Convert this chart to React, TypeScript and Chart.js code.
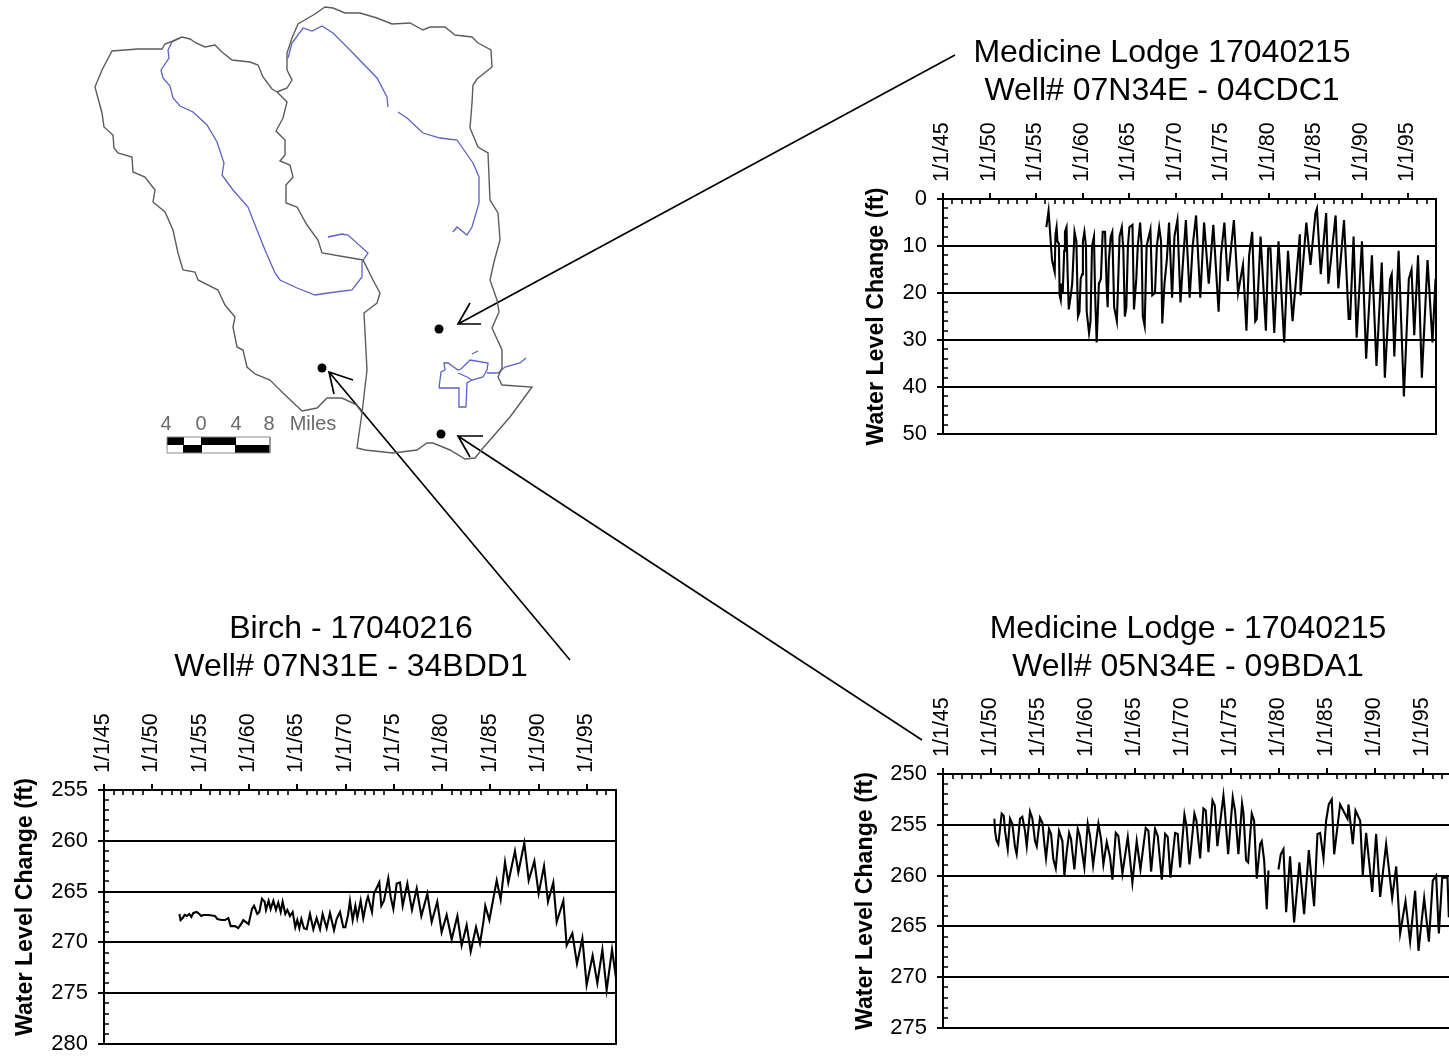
import React, { useEffect, useRef } from "react";
import { Chart, registerables } from "chart.js";

Chart.register(...registerables);

const FONT = "'Liberation Sans', Arial, sans-serif";
const Y_CAPTION = "Water Level Change (ft)";

// ---- Well 07N34E - 04CDC1 ----
const lodgeTitle = ["Medicine Lodge 17040215", "Well# 07N34E - 04CDC1"];
const lodgeYears = [
  1956.11, 1956.35, 1956.72, 1957.01, 1957.09, 1957.21, 1957.3, 1957.46, 1957.54, 1957.66, 1957.75, 1957.87, 1958.03,
  1958.11, 1958.28, 1958.4, 1958.52, 1958.77, 1958.89, 1959.14, 1959.34, 1959.51, 1959.67, 1959.8, 1959.96, 1960.04,
  1960.2, 1960.37, 1960.45, 1960.7, 1960.86, 1961.02, 1961.23, 1961.35, 1961.52, 1961.76, 1961.97, 1962.17, 1962.42,
  1962.58, 1962.7, 1962.83, 1963.03, 1963.2, 1963.4, 1963.69, 1963.81, 1963.98, 1964.22, 1964.39, 1964.55, 1964.71,
  1964.88, 1965.04, 1965.37, 1965.53, 1965.78, 1965.94, 1966.19, 1966.35, 1966.48, 1966.68, 1966.89, 1967.3, 1967.5,
  1967.79, 1967.99, 1968.24, 1968.44, 1968.57, 1968.81, 1969.06, 1969.3, 1969.63, 1969.88, 1970.2, 1970.53, 1970.78,
  1971.11, 1971.52, 1971.84, 1972.21, 1972.66, 1973.07, 1973.57, 1974.06, 1974.63, 1974.88, 1975.25, 1975.61, 1976.27,
  1976.72, 1977.25, 1977.62, 1977.91, 1978.24, 1978.57, 1978.73, 1979.14, 1979.71, 1979.96, 1980.2, 1980.61, 1981.07,
  1981.68, 1982.09, 1982.58, 1983.36, 1983.44, 1984.06, 1984.51, 1985.04, 1985.2, 1985.61, 1986.19, 1986.43, 1987.21,
  1987.5, 1988.11, 1988.61, 1988.77, 1989.14, 1989.47, 1990.04, 1990.49, 1991.11, 1991.6, 1992.17, 1992.5, 1993.07,
  1993.24, 1993.52, 1993.98, 1994.55, 1995.08, 1995.37, 1995.66, 1996.07, 1996.48, 1997.09, 1997.62, 1997.95,
];
const lodgeLevels = [
  6, 2.5, 13, 15.5, 7.5, 6, 9, 9.5, 20.5, 21.5, 18, 20, 11, 7, 6, 16, 23.5, 20, 18, 7, 9, 25, 24, 17, 16, 9, 7, 10, 24,
  28.5, 26, 10, 8, 20, 30.5, 18, 17, 7, 7, 18, 23, 13, 8, 7, 23, 26, 19, 8, 6, 11, 25, 23, 10, 6, 5.5, 23.5, 17, 10, 5,
  10, 25, 27, 10, 6.5, 20.5, 20, 10, 6, 9, 26.5, 18, 13, 5, 21, 8, 4.5, 22, 14, 4.5, 21, 10, 3.5, 21, 5, 18, 5.5, 24,
  12, 5, 17.5, 4.5, 20, 14, 28, 12, 7, 26, 25.5, 8, 28, 10.5, 10.5, 28.5, 9, 30.5, 11, 26, 7.5, 20.5, 5, 14, 3, 2, 16,
  3, 18, 3.5, 19, 4.5, 25.5, 25.5, 8, 29.5, 9, 34, 12, 35.5, 13.5, 38, 17, 16, 33.5, 11, 42, 17, 15, 29, 12, 38, 13,
  30.5, 17,
];

// ---- Well 07N31E - 34BDD1 ----
const birchTitle = ["Birch - 17040216", "Well# 07N31E - 34BDD1"];
const birchYears = [
  1952.8, 1952.93, 1953.14, 1953.35, 1953.56, 1953.83, 1954.04, 1954.25, 1954.59, 1954.87, 1955.07, 1955.28, 1955.8,
  1956.49, 1956.73, 1957.18, 1957.52, 1957.87, 1958.11, 1958.56, 1958.9, 1959.25, 1959.42, 1959.7, 1959.97, 1960.32,
  1960.53, 1960.87, 1961.08, 1961.35, 1961.63, 1961.77, 1962.04, 1962.25, 1962.53, 1962.8, 1963.04, 1963.29, 1963.49,
  1963.77, 1963.98, 1964.25, 1964.53, 1964.8, 1965.01, 1965.22, 1965.43, 1965.7, 1965.98, 1966.32, 1966.67, 1967.01,
  1967.36, 1967.63, 1968.05, 1968.39, 1968.81, 1969.08, 1969.43, 1969.77, 1969.98, 1970.26, 1970.46, 1970.74, 1971.02,
  1971.22, 1971.57, 1971.84, 1972.19, 1972.33, 1972.74, 1972.95, 1973.5, 1973.71, 1973.98, 1974.43, 1974.67, 1974.95,
  1975.3, 1975.64, 1975.92, 1976.4, 1976.88, 1977.37, 1977.85, 1978.47, 1978.92, 1979.5, 1979.95, 1980.47, 1980.99,
  1981.58, 1982.02, 1982.54, 1982.96, 1983.51, 1983.92, 1984.27, 1984.47, 1984.89, 1985.65, 1986.06, 1986.51, 1986.85,
  1987.54, 1987.89, 1988.51, 1988.96, 1989.55, 1989.99, 1990.55, 1990.96, 1991.51, 1991.86, 1992.55, 1992.89, 1993.48,
  1993.96, 1994.52, 1994.96, 1995.58, 1996.07, 1996.59, 1997.03, 1997.59, 1998.0,
];
const birchLevels = [
  267.2, 267.8, 267.6, 267.3, 267.4, 267.2, 267.5, 267.1, 267.0, 267.2, 267.4, 267.3, 267.3, 267.4, 267.7, 267.8, 267.8,
  267.6, 268.4, 268.4, 268.6, 268.1, 267.8, 268.0, 268.2, 266.7, 266.4, 267.2, 267.0, 265.7, 266.0, 266.8, 265.9, 266.7,
  265.9, 266.8, 266.1, 267.0, 266.0, 267.2, 266.8, 267.4, 267.0, 268.5, 267.8, 268.6, 267.7, 268.6, 268.7, 267.2, 268.7,
  267.6, 268.7, 267.2, 268.6, 267.1, 268.8, 267.7, 267.0, 268.5, 268.5, 267.3, 265.9, 267.8, 266.4, 267.6, 265.9, 267.6,
  265.9, 265.5, 267.0, 265.2, 264.1, 266.4, 265.9, 263.7, 265.5, 266.7, 264.2, 264.1, 266.4, 264.2, 266.8, 264.7, 267.4,
  265.2, 268.0, 266.0, 269.0, 267.3, 269.7, 267.4, 270.3, 268.3, 270.9, 268.5, 270.1, 268.0, 266.4, 267.8, 263.9, 265.8,
  262.1, 264.1, 261.0, 263.1, 260.2, 263.9, 262.0, 265.2, 262.5, 266.0, 264.1, 268.0, 265.9, 270.3, 269.1, 272.1, 269.6,
  274.2, 271.3, 274.0, 270.7, 274.7, 270.7, 273.5,
];

// ---- Well 05N34E - 09BDA1 ----
const southTitle = ["Medicine Lodge - 17040215", "Well# 05N34E - 09BDA1"];
const southYears = [
  1950.35, 1950.42, 1950.56, 1950.76, 1950.97, 1951.11, 1951.32, 1951.46, 1951.74, 1951.98, 1952.22, 1952.5, 1952.67,
  1953.02, 1953.26, 1953.54, 1953.72, 1954.06, 1954.31, 1954.58, 1954.76, 1955.1, 1955.35, 1955.56, 1955.73, 1956.04,
  1956.25, 1956.49, 1956.74, 1957.08, 1957.43, 1957.64, 1957.88, 1958.13, 1958.33, 1958.68, 1959.03, 1959.24, 1959.72,
  1960.07, 1960.31, 1960.63, 1961.18, 1961.46, 1961.7, 1962.05, 1962.4, 1962.64, 1962.99, 1963.26, 1963.68, 1964.24,
  1964.72, 1965.17, 1965.56, 1966.11, 1966.39, 1966.67, 1967.08, 1967.36, 1967.78, 1968.13, 1968.4, 1968.68, 1969.17,
  1969.44, 1969.69, 1970.14, 1970.35, 1970.66, 1971.18, 1971.39, 1971.77, 1972.12, 1972.36, 1972.64, 1973.06, 1973.3,
  1973.57, 1974.2, 1974.34, 1974.69, 1975.17, 1975.41, 1975.76, 1976.14, 1976.28, 1976.56, 1976.77, 1977.15, 1977.39,
  1977.67, 1978.02, 1978.19, 1978.44, 1978.71, 1978.89, 1979.4, 1979.93, 1980.17, 1980.45, 1980.73, 1981.14, 1981.56,
  1982.11, 1982.6, 1983.09, 1983.64, 1983.99, 1984.27, 1984.62, 1984.89, 1985.17, 1985.48, 1985.73, 1986.35, 1987.12,
  1987.22, 1987.67, 1987.95, 1988.44, 1988.71, 1989.06, 1989.69, 1990.1, 1990.52, 1991.14, 1991.77, 1992.19, 1992.6,
  1993.16, 1993.64, 1994.16, 1994.51, 1995.1, 1995.59, 1996.0, 1996.35, 1996.63, 1996.98, 1997.53, 1997.67, 1998.0,
];
const southLevels = [
  254.4, 255.6, 256.5, 256.9, 255.1, 253.9, 254.1, 255.6, 257.4, 254.4, 254.9, 257.2, 257.9, 254.4, 254.2, 255.6, 257.1,
  253.7, 254.4, 256.6, 257.1, 254.3, 254.8, 256.9, 258.3, 255.4, 255.9, 258.4, 259.3, 255.6, 256.6, 260.0, 257.7, 255.8,
  256.4, 259.4, 255.4, 256.1, 259.2, 254.9, 256.1, 259.0, 254.9, 256.4, 258.9, 256.7, 258.2, 260.4, 255.8, 256.1, 259.8,
  256.2, 260.7, 256.6, 259.4, 255.3, 255.6, 259.6, 255.4, 256.1, 260.4, 255.9, 256.2, 260.2, 255.8, 255.9, 259.2, 254.0,
  255.1, 258.9, 253.9, 254.6, 258.3, 253.4, 253.6, 257.7, 252.6, 253.1, 257.1, 252.1, 253.5, 257.9, 252.3, 253.6, 257.9,
  252.9, 253.8, 258.5, 258.7, 253.9, 254.6, 260.3, 256.9, 256.6, 258.5, 263.3, 259.5, null, 259.4, 257.9, 257.4, 263.6,
  258.1, 264.6, 258.7, 263.8, 257.5, 263.0, 255.9, 255.8, 258.3, 254.6, 253.0, 252.5, 257.9, 253.0, 254.4, 253.0, 256.9,
  253.6, 254.6, 260.0, 255.8, 261.6, 255.9, 262.1, 256.9, 262.2, 259.1, 265.7, 262.5, 266.5, 261.5, 267.4, 262.2, 266.5,
  260.5, 260.0, 265.7, 260.2, 260.2, 264.1, 262.0,
];

// ---- Map, in page-scaled map units ----
const lodgeBoundary = [
  [277, 92], [287, 88], [292, 80], [287, 70], [287, 53], [292, 38], [298, 24], [315, 14], [325, 7], [333, 8], [345, 13],
  [360, 13], [377, 18], [392, 24], [410, 23], [423, 30], [430, 27], [445, 27], [455, 35], [472, 37], [478, 43], [491, 50],
  [492, 67], [477, 79], [473, 85], [472, 103], [470, 128], [478, 147], [488, 153], [490, 200], [498, 213], [500, 240],
  [494, 262], [490, 280], [497, 300], [499, 312], [492, 328], [502, 350], [502, 368], [498, 377], [502, 385], [532, 387],
  [510, 417], [483, 448], [475, 458], [465, 459], [450, 450], [433, 443], [427, 443], [417, 450], [393, 453], [365, 450],
  [357, 448], [362, 413], [365, 387], [367, 370], [364, 313], [377, 303], [380, 293], [373, 280], [363, 260], [322, 253],
  [318, 240], [307, 225], [297, 207], [286, 203], [286, 185], [293, 177], [290, 165], [280, 161], [285, 155], [285, 140],
  [276, 131], [283, 118], [287, 102], [277, 92],
];
const birchBoundary = [
  [277, 92], [272, 89], [263, 77], [258, 65], [250, 62], [232, 60], [222, 52], [215, 45], [205, 47], [196, 43], [190, 39],
  [182, 37], [173, 41], [165, 44], [162, 49], [138, 49], [112, 51], [102, 70], [95, 87], [102, 113], [104, 127], [113, 135],
  [114, 148], [118, 153], [132, 157], [133, 172], [145, 177], [155, 190], [153, 202], [165, 212], [173, 230], [178, 253],
  [183, 270], [195, 272], [198, 280], [218, 290], [225, 305], [235, 317], [233, 327], [237, 347], [243, 350], [247, 367],
  [255, 374], [270, 380], [283, 393], [302, 411], [317, 408], [327, 398], [342, 398], [357, 405], [362, 413],
];
const birchRiver = [
  [180, 38], [172, 42], [168, 50], [169, 58], [161, 70], [163, 78], [170, 86], [173, 98], [180, 106], [193, 112], [207, 125],
  [217, 142], [224, 163], [222, 175], [233, 190], [248, 207], [253, 220], [257, 230], [265, 250], [275, 273], [280, 280],
  [297, 288], [315, 295], [328, 293], [352, 290], [362, 277], [362, 262], [368, 253], [348, 235], [342, 234], [328, 237],
];
const lodgeRiver = [
  [288, 58], [292, 43], [303, 28], [312, 31], [322, 26], [333, 33], [350, 50], [377, 78], [387, 97], [388, 107], [null, null],
  [398, 112], [407, 118], [423, 133], [440, 138], [457, 140], [473, 163], [479, 177], [479, 203], [472, 227], [467, 235],
  [457, 227], [453, 232],
];
const reservoir = [
  [439, 388], [441, 372], [445, 370], [444, 363], [448, 363], [458, 370], [461, 369], [466, 364], [470, 360], [488, 363],
  [487, 370], [483, 377], [472, 380], [467, 383], [466, 407], [459, 407], [459, 388], [439, 388], [null, null],
  [458, 373], [467, 377], [472, 380], [null, null], [487, 373], [498, 373], [505, 367], [520, 363], [526, 358], [null, null],
  [472, 354], [478, 351],
];
const wellSites = [[439, 329], [322, 368], [441, 434]];
const arrowA = [[955, 55], [458, 324], [null, null], [481, 324], [458, 324], [470, 303]];
const arrowB = [[570, 660], [329, 372], [null, null], [353, 380], [329, 372], [334, 394]];
const arrowC = [[922, 740], [458, 436], [null, null], [483, 436], [458, 436], [470, 457]];
const scaleBarTop = [[167, 441], [184, 441], [null, null], [201, 441], [236, 441]];
const scaleBarBottom = [[183, 449], [202, 449], [null, null], [235, 449], [270, 449]];
const scaleBarFrame = [[167, 437], [270, 437], [270, 453], [167, 453], [167, 437]];
const scaleWords = ["4", "0", "4", "8", "Miles"];
const scaleWordSpots = [[166, 424], [201, 424], [236, 424], [269, 424], [313, 424]];

const asPoints = (rows: any[]) => rows.map(([x, y]) => ({ x, y }));

function makeWell(canvas: HTMLCanvasElement, g: any) {
  const plugin = {
    id: "wellFrame",
    afterLayout(chart: any) {
      chart.titleBlock.left = g.titleCenter - g.left - 300;
      chart.titleBlock.right = g.titleCenter - g.left + 300;
      chart.scales.y.bottom -= g.captionLift * 2;
    },
    afterDatasetsDraw(chart: any) {
      const { ctx, chartArea: a, scales } = chart;
      ctx.save();
      ctx.strokeStyle = "#000";
      ctx.lineWidth = 1.6;
      ctx.beginPath();
      for (let v = 1945; v <= 1998; v += 1) {
        if ((v - 1945) % 5 === 0) continue;
        const p = Math.round(scales.x.getPixelForValue(v));
        ctx.moveTo(p, a.top);
        ctx.lineTo(p, a.top + 5);
      }
      for (let v = g.yMin; v <= g.yMax; v += g.yMinor) {
        if ((v - g.yMin) % g.yStep === 0) continue;
        const p = Math.round(scales.y.getPixelForValue(v));
        ctx.moveTo(a.left, p);
        ctx.lineTo(a.left + 5, p);
      }
      ctx.stroke();
      ctx.lineWidth = 2;
      ctx.strokeRect(a.left, a.top, a.right - a.left, a.bottom - a.top);
      ctx.restore();
    },
  };
  return new Chart(canvas, {
    type: "scatter",
    data: {
      datasets: [
        {
          label: g.title[1],
          data: g.years.map((x: number, i: number) => ({ x, y: g.levels[i] })),
          showLine: true,
          borderColor: "#000",
          borderWidth: 2.1,
          pointRadius: 0,
          tension: 0,
          spanGaps: false,
        },
      ],
    },
    options: {
      animation: false,
      responsive: false,
      devicePixelRatio: 1,
      layout: { autoPadding: false, padding: { left: 0, right: 4, top: 0, bottom: 20 } },
      plugins: {
        legend: { display: false },
        tooltip: { enabled: false },
        title: {
          display: true,
          text: g.title,
          color: "#000",
          font: { family: FONT, size: 32, weight: "normal", lineHeight: "38px" },
          padding: 0,
        },
      },
      scales: {
        x: {
          type: "linear",
          position: "top",
          min: 1945,
          max: 1998,
          afterFit: (s: any) => {
            s.height = g.xHeight;
            s.paddingLeft = 0;
            s.paddingRight = 0;
          },
          border: { display: false },
          grid: { color: "#000", lineWidth: 2, drawOnChartArea: false, drawTicks: true, tickLength: 6 },
          ticks: {
            stepSize: 5,
            includeBounds: false,
            autoSkip: false,
            minRotation: 90,
            maxRotation: 90,
            padding: 11,
            labelOffset: 25,
            color: "#000",
            font: { family: FONT, size: 21.5 },
            callback: (v: any) => "1/1/" + String(v).slice(2),
          },
        },
        y: {
          type: "linear",
          reverse: true,
          min: g.yMin,
          max: g.yMax,
          afterFit: (s: any) => {
            s.width = g.plotLeft - g.left;
            s.paddingTop = 0;
            s.paddingBottom = 0;
          },
          border: { display: false },
          grid: { color: "#000", lineWidth: 2, drawTicks: true, tickLength: 6 },
          ticks: {
            stepSize: g.yStep,
            includeBounds: false,
            padding: 10,
            color: "#000",
            font: { family: FONT, size: 22 },
          },
          title: {
            display: true,
            text: Y_CAPTION,
            color: "#000",
            font: { family: FONT, size: 23.2, weight: "bold", lineHeight: 1.2 },
            padding: { top: g.captionX - g.left - 13.9, bottom: 0 },
          },
        },
      },
    },
    plugins: [plugin],
  } as any);
}

function makeMap(canvas: HTMLCanvasElement) {
  const line = (rows: any[], color: string, width: number) => ({
    data: asPoints(rows),
    showLine: true,
    borderColor: color,
    borderWidth: width,
    pointRadius: 0,
    tension: 0,
    spanGaps: false,
    borderCapStyle: "butt",
  });
  const words = {
    id: "scaleWords",
    afterDatasetsDraw(chart: any) {
      const { ctx, scales } = chart;
      ctx.save();
      ctx.fillStyle = "#6a6a6a";
      ctx.font = `20px ${FONT}`;
      ctx.textAlign = "center";
      ctx.textBaseline = "middle";
      scaleWords.forEach((w, i) => {
        ctx.fillText(w, scales.x.getPixelForValue(scaleWordSpots[i][0]), scales.y.getPixelForValue(scaleWordSpots[i][1]));
      });
      ctx.restore();
    },
  };
  return new Chart(canvas, {
    type: "scatter",
    data: {
      datasets: [
        line(lodgeBoundary, "#5c5c5c", 1.4),
        line(birchBoundary, "#5c5c5c", 1.4),
        line(birchRiver, "#5a62c4", 1.3),
        line(lodgeRiver, "#5a62c4", 1.3),
        line(reservoir, "#5a62c4", 1.3),
        line(scaleBarFrame, "#8a8a8a", 1),
        line(scaleBarTop, "#000", 8),
        line(scaleBarBottom, "#000", 8),
        line(arrowA, "#000", 1.7),
        line(arrowB, "#000", 1.7),
        line(arrowC, "#000", 1.7),
        { data: asPoints(wellSites), pointRadius: 4.5, pointBackgroundColor: "#000", pointBorderWidth: 0, showLine: false },
      ],
    },
    options: {
      animation: false,
      responsive: false,
      devicePixelRatio: 1,
      layout: { autoPadding: false, padding: 0 },
      plugins: { legend: { display: false }, tooltip: { enabled: false }, title: { display: false } },
      scales: {
        x: { type: "linear", min: 0, max: 1449, display: false },
        y: { type: "linear", min: 0, max: 1062, reverse: true, display: false },
      },
    },
    plugins: [words],
  } as any);
}

const wells = [
  {
    title: lodgeTitle, years: lodgeYears, levels: lodgeLevels,
    left: 850, top: 34, plotLeft: 943, plotRight: 1436, plotBottom: 434, xHeight: 89,
    titleCenter: 1162, captionX: 877, captionLift: 0, yMin: 0, yMax: 50, yStep: 10, yMinor: 2,
  },
  {
    title: birchTitle, years: birchYears, levels: birchLevels,
    left: 0, top: 610, plotLeft: 104, plotRight: 616, plotBottom: 1044, xHeight: 104,
    titleCenter: 351, captionX: 26, captionLift: 10, yMin: 255, yMax: 280, yStep: 5, yMinor: 1,
  },
  {
    title: southTitle, years: southYears, levels: southLevels,
    left: 846, top: 610, plotLeft: 943, plotRight: 1452, plotBottom: 1028, xHeight: 88,
    titleCenter: 1188, captionX: 866, captionLift: 0, yMin: 250, yMax: 275, yStep: 5, yMinor: 1,
  },
];

export default function App() {
  const mapRef = useRef<HTMLCanvasElement>(null);
  const wellRefs = [useRef<HTMLCanvasElement>(null), useRef<HTMLCanvasElement>(null), useRef<HTMLCanvasElement>(null)];

  useEffect(() => {
    const charts = [makeMap(mapRef.current!), ...wells.map((g, i) => makeWell(wellRefs[i].current!, g))];
    return () => charts.forEach((c) => c.destroy());
  }, []);

  return (
    <div style={{ position: "absolute", left: 0, top: 0, width: 1449, height: 1062, overflow: "hidden", background: "#fff" }}>
      <canvas ref={mapRef} width={1449} height={1062} style={{ position: "absolute", left: 0, top: 0, width: 1449, height: 1062 }} />
      {wells.map((g, i) => {
        const w = g.plotRight + 4 - g.left;
        const h = g.plotBottom + 20 - g.top;
        return (
          <canvas
            key={i}
            ref={wellRefs[i]}
            width={w}
            height={h}
            style={{ position: "absolute", left: g.left, top: g.top, width: w, height: h }}
          />
        );
      })}
    </div>
  );
}
